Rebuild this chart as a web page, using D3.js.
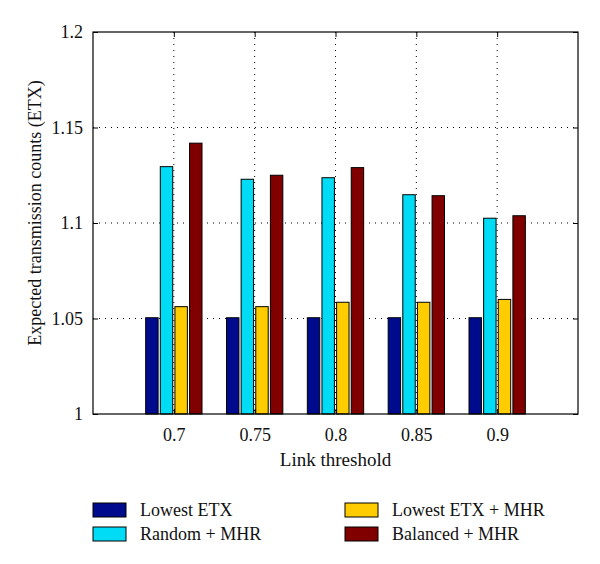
<!DOCTYPE html>
<html><head><meta charset="utf-8">
<script src="https://cdn.jsdelivr.net/npm/d3@7"></script>
<style>body{margin:0;background:#fff}svg{display:block;font-family:"Liberation Serif","DejaVu Serif",serif}</style>
</head><body><svg id="c" width="600" height="564"></svg>
<script>
const categories = [0.7, 0.75, 0.8, 0.85, 0.9];
const seriesNames = ["Lowest ETX", "Random + MHR", "Lowest ETX + MHR", "Balanced + MHR"];
const seriesColors = ["#000a8c", "#00dcf5", "#ffcc00", "#800000"];
const lowestETX = [1.0504, 1.0504, 1.0504, 1.0504, 1.0504];
const randomMHR = [1.1295, 1.1229, 1.1237, 1.1148, 1.1025];
const lowestETXMHR = [1.0562, 1.0562, 1.0585, 1.0585, 1.0600];
const balancedMHR = [1.1418, 1.1250, 1.1290, 1.1143, 1.1038];
const yTicks = [1, 1.05, 1.1, 1.15, 1.2];
const xTicks = [0.7, 0.75, 0.8, 0.85, 0.9];
const series = [lowestETX, randomMHR, lowestETXMHR, balancedMHR];

const svg = d3.select("#c");
const L = 93, R = 578, T = 32, B = 414;
const x = d3.scaleLinear().domain([0.65, 0.95]).range([L, R]);
const y = d3.scaleLinear().domain([1, 1.2]).range([B, T]);

// grid
const g = svg.append("g");
g.selectAll(".gx").data(xTicks).join("line")
  .attr("x1", d => x(d)).attr("x2", d => x(d)).attr("y1", T).attr("y2", B)
  .attr("stroke", "#000").attr("stroke-width", 1).attr("stroke-dasharray", "1,5");
g.selectAll(".gy").data(yTicks.slice(1, -1)).join("line")
  .attr("x1", L).attr("x2", R).attr("y1", d => y(d)).attr("y2", d => y(d))
  .attr("stroke", "#000").attr("stroke-width", 1).attr("stroke-dasharray", "1,5");

// bars
const step = (x(0.75) - x(0.7)) * 0.181;
const bw = step * 0.85;
series.forEach((vals, si) => {
  svg.append("g").selectAll("rect").data(vals).join("rect")
    .attr("x", (d, i) => x(categories[i]) + (si - 1.5) * step - bw / 2)
    .attr("width", bw)
    .attr("y", d => y(d))
    .attr("height", d => y(1) - y(d))
    .attr("fill", seriesColors[si])
    .attr("stroke", "#000").attr("stroke-width", 1);
});

// frame
svg.append("rect").attr("x", L).attr("y", T).attr("width", R - L).attr("height", B - T)
  .attr("fill", "none").attr("stroke", "#000").attr("stroke-width", 1.2);

// axes
const fmt = d => String(d);
const xAxis = d3.axisBottom(x).tickValues(xTicks).tickSize(-5).tickPadding(14).tickFormat(fmt);
const xa = svg.append("g").attr("transform", `translate(0,${B})`).call(xAxis);
const xt = svg.append("g").attr("transform", `translate(0,${T})`).call(d3.axisTop(x).tickValues(xTicks).tickSize(-5).tickFormat(""));
const yAxis = d3.axisLeft(y).tickValues(yTicks).tickSize(-5).tickPadding(10).tickFormat(fmt);
const ya = svg.append("g").attr("transform", `translate(${L},0)`).call(yAxis);
const yr = svg.append("g").attr("transform", `translate(${R},0)`).call(d3.axisRight(y).tickValues(yTicks).tickSize(-5).tickFormat(""));
[xa, xt, ya, yr].forEach(a => {
  a.select(".domain").remove();
  a.selectAll("line").attr("stroke", "#000");
  a.selectAll("text").attr("fill", "#111").style("font-family", '"Liberation Serif",serif').style("font-size", "18px");
});

svg.append("text").attr("x", (x(0.8))).attr("y", 466).attr("text-anchor", "middle")
  .attr("fill", "#111").style("font-size", "19px").text("Link threshold");
svg.append("text").attr("transform", `translate(41,213) rotate(-90)`)
  .attr("text-anchor", "middle").attr("fill", "#111").style("font-size", "18px")
  .text("Expected transmission counts (ETX)");

// legend
const legPos = [[93, 510], [93, 534], [345, 510], [345, 534]];
const lg = svg.append("g");
seriesNames.forEach((name, si) => {
  const [lx, ly] = legPos[si];
  lg.append("rect").attr("x", lx).attr("y", ly - 7).attr("width", 33).attr("height", 14)
    .attr("fill", seriesColors[si]).attr("stroke", "#000").attr("stroke-width", 1);
  lg.append("text").attr("x", lx + 47).attr("y", ly + 6).attr("fill", "#111")
    .style("font-size", "18px").text(name);
});
</script></body></html>
